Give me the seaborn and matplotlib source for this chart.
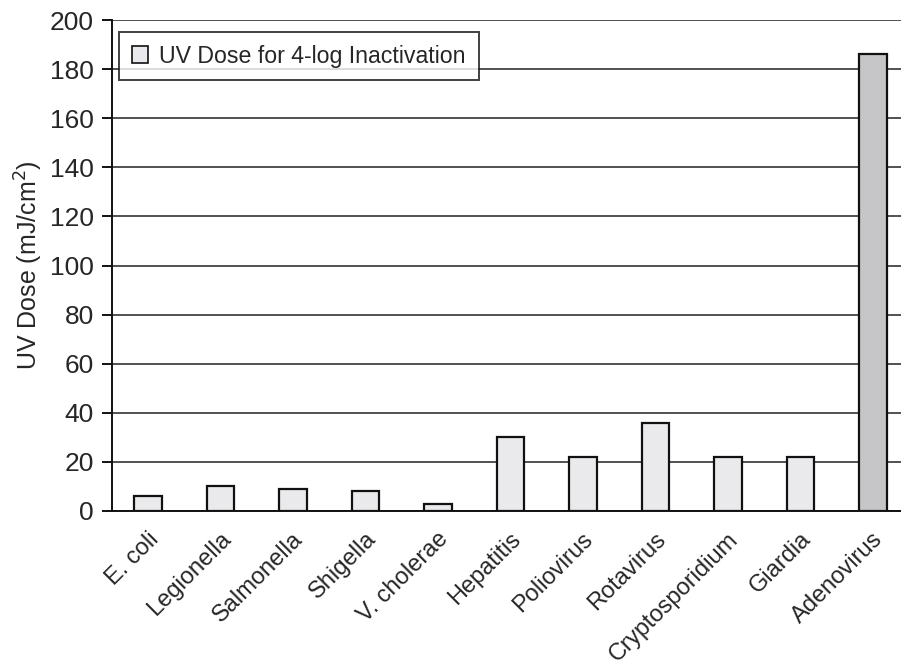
"""UV dose required for 4-log inactivation of waterborne pathogens."""

import numpy as np
import pandas as pd
import matplotlib
matplotlib.use("Agg")
import matplotlib.pyplot as plt
from matplotlib.patches import Patch
from matplotlib.transforms import ScaledTranslation
import seaborn as sns

# Data
organisms = ["E. coli", "Legionella", "Salmonella", "Shigella", "V. cholerae",
             "Hepatitis", "Poliovirus", "Rotavirus", "Cryptosporidium",
             "Giardia", "Adenovirus"]
uv_dose = [6, 10, 9, 8, 3, 30, 22, 36, 22, 22, 186]
bar_colors = ["#e9e9ed"] * 10 + ["#c6c6c8"]
y_ticks = list(range(0, 201, 20))

sns.set_style("white")
plt.rcParams["font.family"] = ["Liberation Sans", "DejaVu Sans"]

df = pd.DataFrame({"organism": organisms, "dose": uv_dose})

fig = plt.figure(figsize=(9.01, 6.71), dpi=100)
# axes runs slightly past the right edge, as in the scanned original
ax = fig.add_axes([0.124, 0.2385, 0.885, 0.7315])

sns.barplot(data=df, x="organism", y="dose", hue="organism",
            palette=bar_colors, legend=False, width=0.38,
            edgecolor="#111111", linewidth=1.6, ax=ax, zorder=3)

ax.set_ylim(0, 200)
ax.set_xlim(-0.5, len(organisms) - 0.5)
ax.set_yticks(y_ticks)
ax.yaxis.grid(True, color="#222222", linewidth=1.1)
ax.set_axisbelow(True)
for s in ["top", "right"]:
    ax.spines[s].set_visible(False)
for s in ["left", "bottom"]:
    ax.spines[s].set_color("#111111")
    ax.spines[s].set_linewidth(1.4)

# category boundary ticks (Excel style)
ax.set_xticks(np.arange(len(organisms)))
ax.set_xticks(np.arange(len(organisms)) + 0.5, minor=True)
ax.tick_params(axis="x", which="major", length=0, pad=18)
ax.tick_params(axis="x", which="minor", length=8, width=1.4,
               color="#111111", direction="out")
ax.set_xticklabels(organisms, rotation=45, ha="right", va="center",
                   rotation_mode="anchor", fontsize=17)
nudge = ScaledTranslation(0.07, 0, fig.dpi_scale_trans)
for lbl in ax.get_xticklabels():
    lbl.set_transform(lbl.get_transform() + nudge)
ax.tick_params(axis="y", length=7, width=1.4, color="#111111",
               direction="out", labelsize=19, pad=6, left=True)

ax.set_xlabel("")
ax.set_ylabel("UV Dose (mJ/cm$^2$)", fontsize=18)
ax.yaxis.set_label_coords(-0.084, 0.5)

handle = Patch(facecolor="#e9e9ed", edgecolor="#111111", linewidth=1.2)
leg = ax.legend([handle], ["UV Dose for 4-log Inactivation"],
                loc="upper left", bbox_to_anchor=(0.009, 0.976),
                borderaxespad=0, fontsize=16.7, frameon=True, fancybox=False,
                handlelength=0.7, handleheight=0.7, handletextpad=0.5,
                borderpad=0.55)
leg.get_frame().set_edgecolor("#111111")
leg.get_frame().set_linewidth(1.4)

fig.savefig("out.png", dpi=100)
